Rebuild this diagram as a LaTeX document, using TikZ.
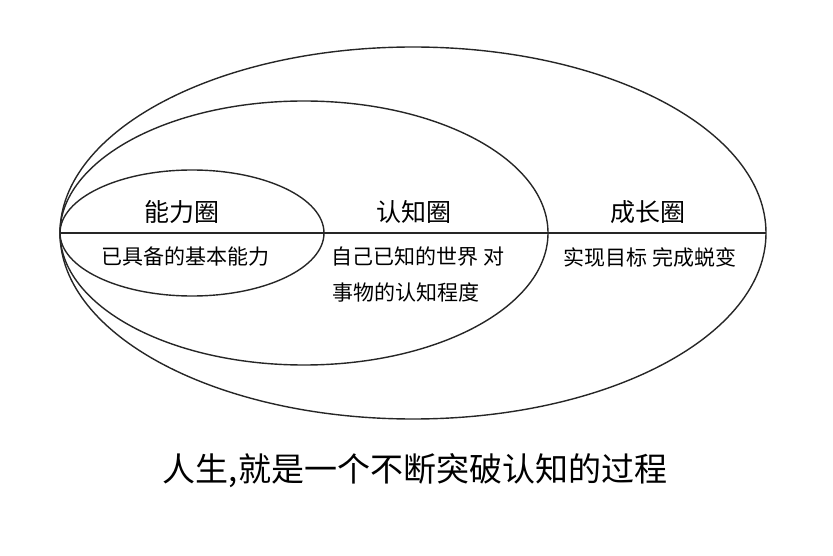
\documentclass[tikz,border=0pt]{standalone}
\usepackage{fontspec}
\setmainfont{Noto Sans CJK SC}
\begin{document}
\begin{tikzpicture}[x=1pt,y=-1pt,
  ring/.style={draw=black!85,line width=1.4pt},
  head/.style={font=\fontsize{25}{28}\selectfont},
  body/.style={font=\fontsize{21}{24}\selectfont},
  title/.style={font=\fontsize{33}{37}\selectfont}]
\useasboundingbox (0,0) rectangle (833,556);
\draw[ring] (413,233) ellipse [x radius=353, y radius=186];
\draw[ring] (304,233) ellipse [x radius=244, y radius=132];
\draw[ring] (192,233) ellipse [x radius=132, y radius=63];
\coordinate (L) at (60,233);
\coordinate (R) at (766,233);
\draw[ring] (L) -- (R);
\node[head] (a) at (182,212) {能力圈};
\node[head] (b) at (414,212) {认知圈};
\node[head] (c) at (648,212) {成长圈};
\node[body] (a1) at (185,257) {已具备的基本能力};
\node[body] (b1) at (418,257) {自己已知的世界\ 对};
\node[body] (b2) at (406,292) {事物的认知程度};
\node[body] (c1) at (650,257) {实现目标\ 完成蜕变};
\node[title] (t) at (415,471) {人生,就是一个不断突破认知的过程};
\end{tikzpicture}
\end{document}
